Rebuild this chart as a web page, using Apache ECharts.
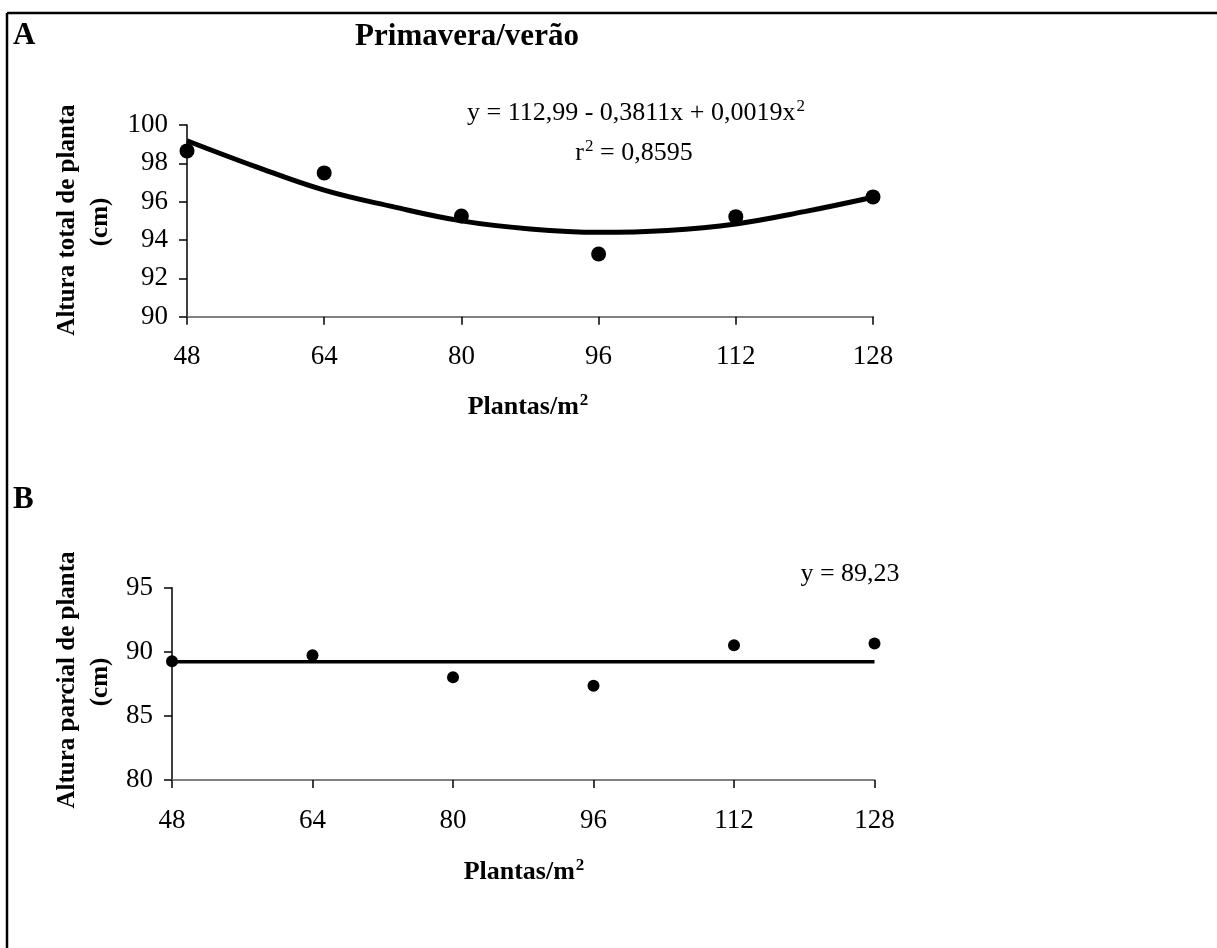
<!DOCTYPE html>
<html>
<head>
<meta charset="utf-8">
<script src="https://cdn.jsdelivr.net/npm/echarts@6/dist/echarts.min.js"></script>
<style>html,body{margin:0;padding:0;background:#fff}#c{width:1217px;height:948px}</style>
</head>
<body>
<div id="c"></div>
<script>
// ---- data ----
const densities = [48, 64, 80, 96, 112, 128];
const xTicks = [48, 64, 80, 96, 112, 128];
const totalHeightObs = [98.65, 97.5, 95.25, 93.27, 95.22, 96.25];
const fitX = [48, 56, 64, 72, 80, 88, 96, 104, 112, 120, 128];
const totalHeightFit = [99.18, 97.83, 96.6, 95.74, 95.0, 94.58, 94.4, 94.5, 94.84, 95.48, 96.23];
const partialHeightObs = [89.27, 89.74, 88.02, 87.35, 90.52, 90.65];
const partialFitX = [48, 128];
const partialHeightFit = [89.23, 89.23];
const yTicksA = [90, 92, 94, 96, 98, 100];
const yTicksB = [80, 85, 90, 95];

const pairs = (xs, ys) => xs.map((x, i) => [x, ys[i]]);
const SERIF = '"Liberation Serif", "Times New Roman", serif';

const chart = echarts.init(document.getElementById('c'), null, {renderer: 'canvas'});

function xAxis(gridIndex) {
  return {
    type: 'value', gridIndex, min: xTicks[0], max: xTicks[xTicks.length - 1], interval: 16,
    axisLine: {show: true, lineStyle: {color: '#808080', width: 2}},
    axisTick: {show: true, length: 8, inside: false, lineStyle: {color: '#000', width: 1.5}},
    axisLabel: {color: '#000', fontFamily: SERIF, fontSize: 27, margin: 27},
    splitLine: {show: false}
  };
}
function yAxis(gridIndex, ticks) {
  return {
    type: 'value', gridIndex, min: ticks[0], max: ticks[ticks.length - 1], interval: ticks[1] - ticks[0],
    axisLine: {show: true, lineStyle: {color: '#000', width: 1.5}},
    axisTick: {show: true, length: 8, lineStyle: {color: '#000', width: 1.5}},
    axisLabel: {color: '#000', fontFamily: SERIF, fontSize: 27, margin: 19},
    splitLine: {show: false}
  };
}

const supRich = {
  b: {fontFamily: SERIF, fontSize: 26, fontWeight: 'bold', color: '#000'},
  bs: {fontFamily: SERIF, fontSize: 17, fontWeight: 'bold', color: '#000', verticalAlign: 'top', padding: [0, 0, 12, 1]},
  n: {fontFamily: SERIF, fontSize: 26, color: '#000'},
  ns: {fontFamily: SERIF, fontSize: 17, color: '#000', verticalAlign: 'top', padding: [0, 0, 12, 1]}
};

function txt(x, y, text, opts) {
  return Object.assign({
    type: 'text', x, y, silent: true,
    style: Object.assign({text, fill: '#000', align: 'center', verticalAlign: 'middle', rich: supRich, font: '26px ' + SERIF}, opts || {})
  });
}

const option = {
  animation: false,
  backgroundColor: '#fff',
  grid: [
    {left: 187, right: 1217 - 873, top: 125, height: 191.7},
    {left: 172, right: 1217 - 874.5, top: 587.7, height: 192.3}
  ],
  xAxis: [xAxis(0), xAxis(1)],
  yAxis: [yAxis(0, yTicksA), yAxis(1, yTicksB)],
  series: [
    {type: 'line', xAxisIndex: 0, yAxisIndex: 0, data: pairs(fitX, totalHeightFit), smooth: 0.4,
     showSymbol: false, lineStyle: {color: '#000', width: 5}, z: 2},
    {type: 'scatter', xAxisIndex: 0, yAxisIndex: 0, data: pairs(densities, totalHeightObs),
     symbol: 'circle', symbolSize: 15, itemStyle: {color: '#000', opacity: 1}, z: 3},
    {type: 'line', xAxisIndex: 1, yAxisIndex: 1, data: pairs(partialFitX, partialHeightFit),
     showSymbol: false, lineStyle: {color: '#000', width: 3.5}, z: 2},
    {type: 'scatter', xAxisIndex: 1, yAxisIndex: 1, data: pairs(densities, partialHeightObs),
     symbol: 'circle', symbolSize: 12, itemStyle: {color: '#000', opacity: 1}, z: 3}
  ],
  graphic: [
    {type: 'line', silent: true, shape: {x1: 7, y1: 13, x2: 1217, y2: 13}, style: {stroke: '#000', lineWidth: 2.5}},
    {type: 'line', silent: true, shape: {x1: 7, y1: 13, x2: 7, y2: 948}, style: {stroke: '#000', lineWidth: 2.5}},
    txt(13, 36, 'A', {align: 'left', font: 'bold 31px ' + SERIF}),
    txt(467, 37, 'Primavera/verão', {font: 'bold 31px ' + SERIF}),
    txt(13, 500, 'B', {align: 'left', font: 'bold 31px ' + SERIF}),
    txt(636, 113, '{n|y = 112,99 - 0,3811x + 0,0019x}{ns|2}'),
    txt(634, 153, '{n|r}{ns|2}{n| = 0,8595}'),
    txt(850, 574, '{n|y = 89,23}'),
    txt(528, 407, '{b|Plantas/m}{bs|2}'),
    txt(524, 872, '{b|Plantas/m}{bs|2}'),
    {type: 'text', x: 68, y: 220, rotation: Math.PI / 2, silent: true,
     style: {text: 'Altura total de planta', font: 'bold 25px ' + SERIF, fill: '#000', align: 'center', verticalAlign: 'middle'}},
    {type: 'text', x: 101, y: 222, rotation: Math.PI / 2, silent: true,
     style: {text: '(cm)', font: 'bold 25px ' + SERIF, fill: '#000', align: 'center', verticalAlign: 'middle'}},
    {type: 'text', x: 68, y: 680, rotation: Math.PI / 2, silent: true,
     style: {text: 'Altura parcial de planta', font: 'bold 25px ' + SERIF, fill: '#000', align: 'center', verticalAlign: 'middle'}},
    {type: 'text', x: 101, y: 682, rotation: Math.PI / 2, silent: true,
     style: {text: '(cm)', font: 'bold 25px ' + SERIF, fill: '#000', align: 'center', verticalAlign: 'middle'}}
  ]
};
chart.setOption(option);
</script>
</body>
</html>
